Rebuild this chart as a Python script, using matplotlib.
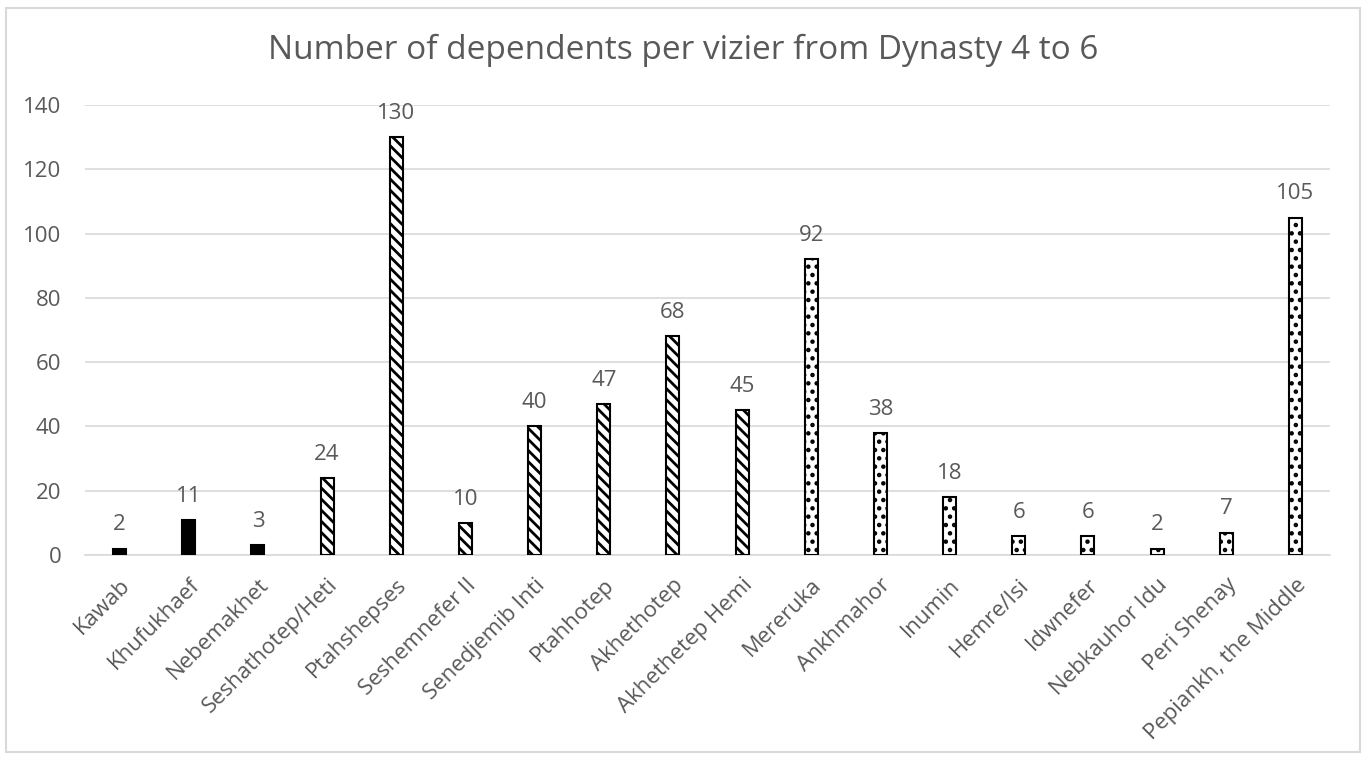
import matplotlib
matplotlib.use("Agg")
import matplotlib.pyplot as plt
from matplotlib.patches import Rectangle

names = ["Kawab", "Khufukhaef", "Nebemakhet", "Seshathotep/Heti", "Ptahshepses",
         "Seshemnefer II", "Senedjemib Inti", "Ptahhotep", "Akhethotep", "Akhethetep Hemi",
         "Mereruka", "Ankhmahor", "Inumin", "Hemre/Isi", "Idwnefer", "Nebkauhor Idu",
         "Peri Shenay", "Pepiankh, the Middle"]
values = [2, 11, 3, 24, 130, 10, 40, 47, 68, 45, 92, 38, 18, 6, 6, 2, 7, 105]
dynasty = [4, 4, 4, 5, 5, 5, 5, 5, 5, 5, 6, 6, 6, 6, 6, 6, 6, 6]

plt.rcParams['font.family'] = ['Open Sans', 'DejaVu Sans']
plt.rcParams['hatch.linewidth'] = 2.0
gray = '#595959'

fig = plt.figure(figsize=(13.67, 7.6), dpi=100)
ax = fig.add_axes([85/1367, 1-555/760, (1330-85)/1367, (555-105)/760])

fig.patches.append(Rectangle((6/1367, 8/760), (1360-6)/1367, (752-8)/760,
                             transform=fig.transFigure, fill=False,
                             edgecolor='#d9d9d9', linewidth=1.5))

x = list(range(len(names)))
styles = {4: dict(color='black', hatch=None),
          5: dict(color='white', hatch='\\\\\\'),
          6: dict(color='white', hatch='..')}
for xi, v, d in zip(x, values, dynasty):
    st = styles[d]
    ax.bar(xi, v, width=0.19, facecolor=st['color'], edgecolor='black',
           hatch=st['hatch'], linewidth=1.5, zorder=3)
    ax.annotate(str(v), (xi, v), xytext=(0, 17), textcoords='offset points',
                ha='center', va='center', fontsize=16, color=gray)

ax.set_xlim(-0.5, len(names) - 0.5)
ax.set_ylim(0, 140)
ax.set_yticks(range(0, 141, 20))
ax.tick_params(axis='y', length=0, labelsize=16, labelcolor=gray, pad=17)
ax.yaxis.grid(True, color='#d9d9d9', linewidth=1.2)
ax.set_axisbelow(True)
for s in ['top', 'right', 'left']:
    ax.spines[s].set_visible(False)
ax.spines['bottom'].set_color('#d9d9d9')
ax.spines['bottom'].set_linewidth(1.2)
ax.set_xticks(x)
ax.set_xticklabels(names, rotation=45, ha='right', rotation_mode='anchor',
                   fontsize=16, color=gray)
ax.tick_params(axis='x', length=0, pad=14)

fig.text(0.5, 1 - 50/760, "Number of dependents per vizier from Dynasty 4 to 6",
         ha='center', va='center', fontsize=24, color=gray)

fig.savefig("out.png", dpi=100)
